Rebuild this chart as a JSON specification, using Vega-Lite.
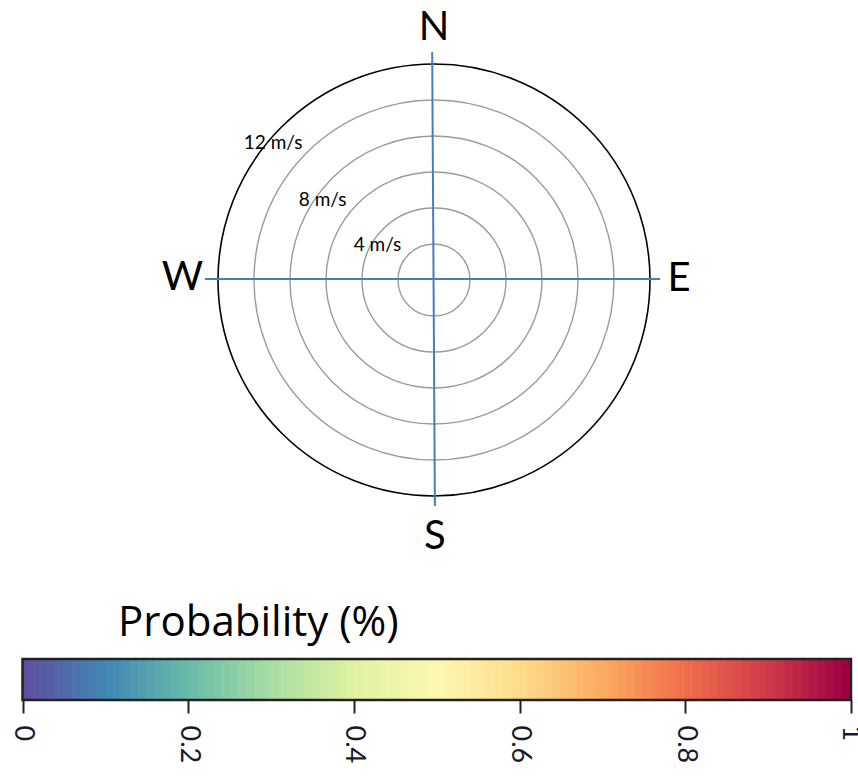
{
  "$schema": "https://vega.github.io/schema/vega-lite/v6.json",
  "padding": 0,
  "background": "white",
  "spacing": 41,
  "config": {"view": {"stroke": null}, "font": "Lato"},
  "vconcat": [
    {
      "width": 858,
      "height": 560,
      "layer": [
        {
          "data": {"values": [{"speed": 2}, {"speed": 4}, {"speed": 6}, {"speed": 8}, {"speed": 10}]},
          "mark": {"type": "point", "shape": "circle", "filled": false, "stroke": "#9b9b9b", "strokeWidth": 1.4, "opacity": 1},
          "encoding": {
            "x": {"datum": 0, "type": "quantitative", "scale": {"domain": [-24.111, 23.556], "nice": false, "zero": false}, "axis": null},
            "y": {"datum": 0, "type": "quantitative", "scale": {"domain": [-15.556, 15.556], "nice": false, "zero": false}, "axis": null},
            "size": {"field": "speed", "type": "quantitative", "scale": {"type": "pow", "exponent": 2, "domain": [0, 12], "range": [0, 186624]}, "legend": null}
          }
        },
        {
          "data": {"values": [{"speed": 12}]},
          "mark": {"type": "point", "shape": "circle", "filled": false, "stroke": "#000000", "strokeWidth": 1.6, "opacity": 1},
          "encoding": {
            "x": {"datum": 0, "type": "quantitative", "axis": null},
            "y": {"datum": 0, "type": "quantitative", "axis": null},
            "size": {"field": "speed", "type": "quantitative", "scale": {"type": "pow", "exponent": 2, "domain": [0, 12], "range": [0, 186624]}, "legend": null}
          }
        },
        {
          "data": {"values": [
            {"x": -0.1, "y": 12.67, "x2": 0.05, "y2": -12.56},
            {"x": -12.72, "y": 0.05, "x2": 12.56, "y2": 0.05}
          ]},
          "mark": {"type": "rule", "color": "#4a7ebb", "strokeWidth": 2},
          "encoding": {
            "x": {"field": "x", "type": "quantitative", "axis": null},
            "y": {"field": "y", "type": "quantitative", "axis": null},
            "x2": {"field": "x2"},
            "y2": {"field": "y2"}
          }
        },
        {
          "data": {"values": [
            {"label": "N", "x": 0, "y": 14.0},
            {"label": "S", "x": 0.05, "y": -14.28},
            {"label": "W", "x": -13.97, "y": 0.1},
            {"label": "E", "x": 13.61, "y": 0.05}
          ]},
          "mark": {"type": "text", "fontSize": 40, "font": "Lato", "color": "#000000", "align": "center", "baseline": "middle"},
          "encoding": {
            "x": {"field": "x", "type": "quantitative", "axis": null},
            "y": {"field": "y", "type": "quantitative", "axis": null},
            "text": {"field": "label"}
          }
        },
        {
          "data": {"values": [
            {"label": "4 m/s", "x": -3.14, "y": 1.94},
            {"label": "8 m/s", "x": -6.19, "y": 4.44},
            {"label": "12 m/s", "x": -8.94, "y": 7.61}
          ]},
          "mark": {"type": "text", "fontSize": 19, "font": "Lato", "color": "#000000", "align": "center", "baseline": "middle"},
          "encoding": {
            "x": {"field": "x", "type": "quantitative", "axis": null},
            "y": {"field": "y", "type": "quantitative", "axis": null},
            "text": {"field": "label"}
          }
        }
      ]
    },
    {
      "width": 858,
      "height": 41,
      "title": {"text": "Probability (%)", "anchor": "start", "dx": 118, "fontSize": 42, "font": "Open Sans", "fontWeight": "normal", "color": "#000000", "offset": 13},
      "layer": [
        {
          "data": {"values": [
            {"a":0.00,"b":0.01},{"a":0.01,"b":0.02},{"a":0.02,"b":0.03},{"a":0.03,"b":0.04},{"a":0.04,"b":0.05},
            {"a":0.05,"b":0.06},{"a":0.06,"b":0.07},{"a":0.07,"b":0.08},{"a":0.08,"b":0.09},{"a":0.09,"b":0.10},
            {"a":0.10,"b":0.11},{"a":0.11,"b":0.12},{"a":0.12,"b":0.13},{"a":0.13,"b":0.14},{"a":0.14,"b":0.15},
            {"a":0.15,"b":0.16},{"a":0.16,"b":0.17},{"a":0.17,"b":0.18},{"a":0.18,"b":0.19},{"a":0.19,"b":0.20},
            {"a":0.20,"b":0.21},{"a":0.21,"b":0.22},{"a":0.22,"b":0.23},{"a":0.23,"b":0.24},{"a":0.24,"b":0.25},
            {"a":0.25,"b":0.26},{"a":0.26,"b":0.27},{"a":0.27,"b":0.28},{"a":0.28,"b":0.29},{"a":0.29,"b":0.30},
            {"a":0.30,"b":0.31},{"a":0.31,"b":0.32},{"a":0.32,"b":0.33},{"a":0.33,"b":0.34},{"a":0.34,"b":0.35},
            {"a":0.35,"b":0.36},{"a":0.36,"b":0.37},{"a":0.37,"b":0.38},{"a":0.38,"b":0.39},{"a":0.39,"b":0.40},
            {"a":0.40,"b":0.41},{"a":0.41,"b":0.42},{"a":0.42,"b":0.43},{"a":0.43,"b":0.44},{"a":0.44,"b":0.45},
            {"a":0.45,"b":0.46},{"a":0.46,"b":0.47},{"a":0.47,"b":0.48},{"a":0.48,"b":0.49},{"a":0.49,"b":0.50},
            {"a":0.50,"b":0.51},{"a":0.51,"b":0.52},{"a":0.52,"b":0.53},{"a":0.53,"b":0.54},{"a":0.54,"b":0.55},
            {"a":0.55,"b":0.56},{"a":0.56,"b":0.57},{"a":0.57,"b":0.58},{"a":0.58,"b":0.59},{"a":0.59,"b":0.60},
            {"a":0.60,"b":0.61},{"a":0.61,"b":0.62},{"a":0.62,"b":0.63},{"a":0.63,"b":0.64},{"a":0.64,"b":0.65},
            {"a":0.65,"b":0.66},{"a":0.66,"b":0.67},{"a":0.67,"b":0.68},{"a":0.68,"b":0.69},{"a":0.69,"b":0.70},
            {"a":0.70,"b":0.71},{"a":0.71,"b":0.72},{"a":0.72,"b":0.73},{"a":0.73,"b":0.74},{"a":0.74,"b":0.75},
            {"a":0.75,"b":0.76},{"a":0.76,"b":0.77},{"a":0.77,"b":0.78},{"a":0.78,"b":0.79},{"a":0.79,"b":0.80},
            {"a":0.80,"b":0.81},{"a":0.81,"b":0.82},{"a":0.82,"b":0.83},{"a":0.83,"b":0.84},{"a":0.84,"b":0.85},
            {"a":0.85,"b":0.86},{"a":0.86,"b":0.87},{"a":0.87,"b":0.88},{"a":0.88,"b":0.89},{"a":0.89,"b":0.90},
            {"a":0.90,"b":0.91},{"a":0.91,"b":0.92},{"a":0.92,"b":0.93},{"a":0.93,"b":0.94},{"a":0.94,"b":0.95},
            {"a":0.95,"b":0.96},{"a":0.96,"b":0.97},{"a":0.97,"b":0.98},{"a":0.98,"b":0.99},{"a":0.99,"b":1.00}
          ]},
          "mark": {"type": "rect", "strokeWidth": 1},
          "encoding": {
            "x": {
              "field": "a", "type": "quantitative",
              "scale": {"domain": [-0.02716, 1.00845], "nice": false, "zero": false},
              "axis": {
                "values": [0, 0.2, 0.4, 0.6, 0.8, 1], "format": "~g", "orient": "bottom",
                "domain": false, "grid": false, "ticks": true, "tickSize": 13, "tickWidth": 2, "tickColor": "#222222",
                "labelAngle": 90, "labelAlign": "left", "labelBaseline": "middle", "labelPadding": 12,
                "labelFontSize": 27, "labelFont": "Lato", "labelColor": "#1a1a2e",
                "labelFlush": false, "labelOverlap": false, "labelBound": false, "title": null
              }
            },
            "x2": {"field": "b"},
            "color": {"field": "a", "type": "quantitative", "scale": {"scheme": "spectral", "reverse": true, "domain": [0, 0.99]}, "legend": null},
            "stroke": {"field": "a", "type": "quantitative", "scale": {"scheme": "spectral", "reverse": true, "domain": [0, 0.99]}, "legend": null}
          }
        },
        {
          "data": {"values": [{"a": 0, "b": 1}]},
          "mark": {"type": "rect", "fill": null, "fillOpacity": 0, "stroke": "#222222", "strokeWidth": 2.5},
          "encoding": {
            "x": {"field": "a", "type": "quantitative"},
            "x2": {"field": "b"}
          }
        }
      ]
    }
  ]
}
